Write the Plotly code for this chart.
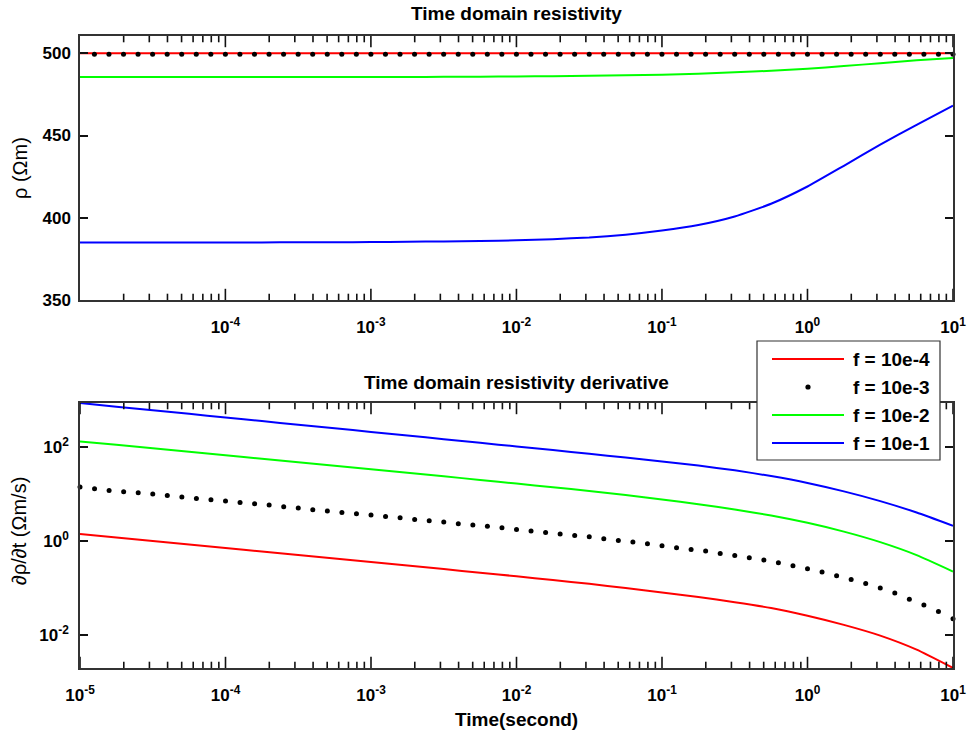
import plotly.graph_objects as go

# ---------------- data ----------------
line_exp = [-5, -4.75, -4.5, -4.25, -4, -3.75, -3.5, -3.25, -3, -2.75, -2.5, -2.25, -2,
            -1.75, -1.5, -1.25, -1, -0.75, -0.5, -0.25, 0, 0.25, 0.5, 0.75, 1]
dot_exp = [round(-5 + 0.1 * i, 1) for i in range(61)]
t_line = [10 ** e for e in line_exp]
t_dot = [10 ** e for e in dot_exp]

labels = ["f = 10e-4", "f = 10e-3", "f = 10e-2", "f = 10e-1"]
colors = ["#FF0000", "#000000", "#00FF00", "#0000FF"]

x_tick_exp = [-5, -4, -3, -2, -1, 0, 1]
y2_tick_exp = [-2, 0, 2]
y1_ticks = [350, 400, 450, 500]

# Time-domain resistivity (Ohm m)
rho_f4 = [500.0] * 25
rho_f3 = [499.4] * 61
rho_f2 = [485.5, 485.5, 485.5, 485.5, 485.5, 485.5, 485.6, 485.6, 485.6, 485.6, 485.7, 485.8, 485.9,
          486.1, 486.3, 486.6, 487.0, 487.6, 488.4, 489.4, 490.6, 492.2, 494.0, 495.7, 497.1]
rho_f1 = [384.9, 384.9, 384.9, 385.0, 385.0, 385.0, 385.1, 385.1, 385.2, 385.4, 385.6, 385.9, 386.3,
          387.0, 388.0, 389.7, 392.2, 395.6, 400.8, 408.5, 419.0, 431.6, 444.4, 456.5, 468.1]

# Time-domain resistivity derivative (Ohm m / s)
drho_f4 = [1.409, 1.186, 1.000, 0.841, 0.708, 0.596, 0.502, 0.424, 0.357, 0.301, 0.252, 0.211, 0.177,
           0.147, 0.122, 0.0993, 0.080, 0.0638, 0.0495, 0.0372, 0.0254, 0.0162, 0.00955, 0.00479, 0.00195]
drho_f3 = [14.22, 13.12, 12.08, 11.30, 10.76, 10.09, 9.44, 8.71, 8.15, 7.62,
           7.14, 6.68, 6.27, 5.87, 5.41, 5.06, 4.67, 4.37, 4.09, 3.83,
           3.59, 3.36, 3.15, 2.90, 2.72, 2.54, 2.34, 2.19, 2.06, 1.92,
           1.77, 1.63, 1.53, 1.41, 1.32, 1.24, 1.12, 1.03, 0.951, 0.875,
           0.794, 0.719, 0.662, 0.611, 0.545, 0.493, 0.440, 0.392, 0.344, 0.296,
           0.256, 0.217, 0.182, 0.151, 0.124, 0.0989, 0.0773, 0.0575, 0.0429, 0.0313,
           0.0219]
drho_f2 = [134.3, 113.5, 95.7, 80.7, 67.9, 57.1, 48.1, 40.5, 34.0, 28.6, 24.1, 20.2, 16.9,
           14.1, 11.7, 9.62, 7.73, 6.12, 4.73, 3.52, 2.45, 1.59, 0.948, 0.501, 0.224]
drho_f1 = [887, 741, 621, 520, 436, 365, 305, 256, 214, 179.5, 150, 125.3, 104.7,
           87.5, 73.0, 60.7, 50.1, 40.9, 32.4, 24.4, 17.4, 11.5, 7.13, 4.07, 2.12]

# axis limits
x1_range = [-4.999, 1]          # log10 units
x2_range = [-5, 1]
y1_range = [350, 510.5]
y2_range = [-2.711, 2.948]      # log10 units

# ---------------- figure ----------------
FONT = "Arial, 'Liberation Sans', sans-serif"
TICK_COL = "#111111"
fig = go.Figure()


def add_set(xa, ya, series):
    for i, (lab, col, ys) in enumerate(zip(labels, colors, series)):
        if i == 1:
            fig.add_trace(go.Scatter(x=t_dot, y=ys, mode="markers", name=lab,
                                     marker=dict(color=col, size=5),
                                     cliponaxis=False,
                                     xaxis=xa, yaxis=ya, showlegend=False))
        else:
            fig.add_trace(go.Scatter(x=t_line, y=ys, mode="lines", name=lab,
                                     line=dict(color=col, width=2, shape="spline", smoothing=0.5),
                                     xaxis=xa, yaxis=ya, showlegend=False))


add_set("x", "y", [rho_f4, rho_f3, rho_f2, rho_f1])
add_set("x2", "y2", [drho_f4, drho_f3, drho_f2, drho_f1])

# x-axis tick marks (major + minor, bottom and top edges), clipped to the plot area
major_vals = [10 ** e for e in x_tick_exp]
minor_vals = [m * 10 ** e for e in x_tick_exp[:-1] for m in range(2, 10)]
edges = [("x", "y", y1_range[0], y1_range[1]),
         ("x2", "y2", 10 ** y2_range[0], 10 ** y2_range[1])]
for xa, ya, lo, hi in edges:
    for vals, size in ((major_vals, 16), (minor_vals, 9)):
        for edge in (lo, hi):
            fig.add_trace(go.Scatter(
                x=vals, y=[edge] * len(vals), mode="markers", xaxis=xa, yaxis=ya,
                marker=dict(symbol="line-ns-open", size=size, color=TICK_COL,
                            line=dict(color=TICK_COL, width=1.6)),
                cliponaxis=True, showlegend=False, hoverinfo="skip"))

TICKFONT = dict(family=FONT, size=17, color="black", weight="bold")
axis_common = dict(
    showline=True, linecolor="#333333", linewidth=1.5, mirror="allticks",
    ticks="inside", ticklen=8, tickwidth=1.6, tickcolor=TICK_COL,
    showgrid=False, zeroline=False, tickfont=TICKFONT, automargin=False,
)

xlog = dict(axis_common, type="log", tickmode="array", ticks="",
            tickvals=major_vals, ticktext=["10<sup>%d</sup>" % e for e in x_tick_exp],
            ticklabelstandoff=11)

H = 738
mt, mb, ml, mr = 36, 70, 80, 17
pw = 970 - ml - mr
ph = H - mt - mb


def py(pix):
    return (H - mb - pix) / ph


def px(pix):
    return (pix - ml) / pw


fig.update_layout(
    width=970, height=738,
    margin=dict(l=ml, r=mr, t=mt, b=mb, autoexpand=False),
    paper_bgcolor="white", plot_bgcolor="white",
    xaxis=dict(xlog, range=x1_range, domain=[0, 1], anchor="y"),
    yaxis=dict(axis_common, range=y1_range, tickmode="array", tickvals=y1_ticks,
               ticklabelstandoff=4, domain=[py(300), 1], anchor="x"),
    xaxis2=dict(xlog, range=x2_range, domain=[0, 1], anchor="y2"),
    yaxis2=dict(axis_common, type="log", range=y2_range, tickmode="array",
                tickvals=[10 ** e for e in y2_tick_exp],
                ticktext=["10<sup>%d</sup>" % e for e in y2_tick_exp],
                ticklabelstandoff=6, domain=[0, py(403)], anchor="x2"),
    showlegend=False,
)

ann = [
    dict(text="<b>Time domain resistivity</b>", x=px(516), y=py(13), size=19),
    dict(text="<b>Time domain resistivity derivative</b>", x=px(516), y=py(382), size=19),
    dict(text="<b>Time(second)</b>", x=px(516), y=py(719), size=19),
    dict(text="ρ (Ωm)", x=px(20), y=py(168), textangle=-90, size=20),
    dict(text="∂ρ/∂t (Ωm/s)", x=px(19), y=py(531), textangle=-90, size=20),
]
for a in ann:
    size = a.pop("size")
    fig.add_annotation(xref="paper", yref="paper", showarrow=False,
                       xanchor="center", yanchor="middle",
                       font=dict(family=FONT, size=size, color="black"), **a)

# ---------------- legend (box, samples, labels) ----------------
lg_left, lg_right, lg_top, lg_bottom = 757, 940, 341, 460
rows = [359, 387, 415, 443]
fig.add_shape(type="rect", xref="paper", yref="paper", layer="above",
              x0=px(lg_left), x1=px(lg_right), y0=py(lg_bottom), y1=py(lg_top),
              fillcolor="white", line=dict(color="#333333", width=1.2))
for i, (lab, col, ry) in enumerate(zip(labels, colors, rows)):
    if i == 1:
        r = 2.6
        fig.add_shape(type="circle", xref="paper", yref="paper", layer="above",
                      x0=px(808 - r), x1=px(808 + r), y0=py(ry + r), y1=py(ry - r),
                      fillcolor=col, line=dict(color=col, width=0))
    else:
        fig.add_shape(type="line", xref="paper", yref="paper", layer="above",
                      x0=px(772), x1=px(844), y0=py(ry), y1=py(ry),
                      line=dict(color=col, width=2))
    fig.add_annotation(xref="paper", yref="paper", showarrow=False,
                       x=px(851), y=py(ry), xanchor="left", yanchor="middle",
                       text="<b>%s</b>" % lab,
                       font=dict(family=FONT, size=19, color="black"))

fig.write_html("out.html")
